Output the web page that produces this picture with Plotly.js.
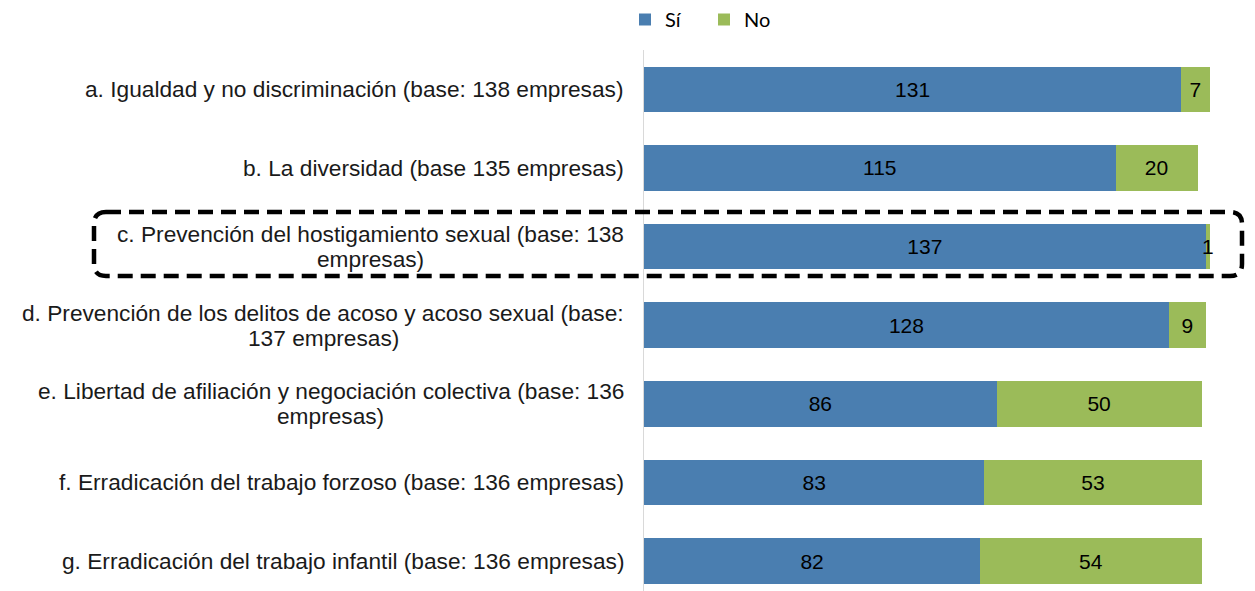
<!DOCTYPE html>
<html>
<head>
<meta charset="utf-8">
<script src="https://cdn.plot.ly/plotly-3.0.1.min.js"></script>
<style>html,body{margin:0;padding:0;background:#fff;}#chart{width:1255px;height:591px;}</style>
</head>
<body>
<div id="chart"></div>
<script>
const categories = [
  "a. Igualdad y no discriminación (base: 138 empresas)",
  "b. La diversidad (base 135 empresas)",
  "c. Prevención del hostigamiento sexual (base: 138<br>empresas)",
  "d. Prevención de los delitos de acoso y acoso sexual (base:<br>137 empresas)",
  "e. Libertad de afiliación y negociación colectiva (base: 136<br>empresas)",
  "f. Erradicación del trabajo forzoso (base: 136 empresas)",
  "g. Erradicación del trabajo infantil (base: 136 empresas)"
];
const siValues = [131, 115, 137, 128, 86, 83, 82];
const noValues = [7, 20, 1, 9, 50, 53, 54];
const seriesNames = ["Sí", "No"];

const W = 1255, H = 591;
const mL = 644, mR = 37, mT = 50, mB = 0;
const pw = W - mL - mR, ph = H - mT - mB;
const px = x => (x - mL) / pw;
const py = y => (H - mB - y) / ph;

const FAM = "Liberation Sans, Arial, sans-serif";
const LABEL_SIZE = 22.7;
const barTextFont = {family: FAM, size: 21, color: "#000"};

const traces = [
  {type: "bar", orientation: "h", name: seriesNames[0], y: categories, x: siValues,
   marker: {color: "#4A7EB0"}, text: siValues.map(String), textposition: "inside",
   insidetextanchor: "middle", constraintext: "none", textfont: barTextFont, hoverinfo: "x+y"},
  {type: "bar", orientation: "h", name: seriesNames[1], y: categories, x: noValues,
   marker: {color: "#9BBB59"}, text: noValues.map(String), textposition: "inside",
   insidetextanchor: "middle", constraintext: "none", textfont: barTextFont, hoverinfo: "x+y"}
];

// category labels: each line centred under the widest line, right edge next to the axis
const ctx = document.createElement("canvas").getContext("2d");
ctx.font = LABEL_SIZE + "px 'Liberation Sans', Arial, sans-serif";
const lineGap = 25;
const annotations = [];
categories.forEach(c => {
  const lines = c.split("<br>");
  const widths = lines.map(l => ctx.measureText(l).width);
  const maxW = Math.max(...widths);
  lines.forEach((l, i) => {
    const off = (i - (lines.length - 1) / 2) * lineGap;
    annotations.push({
      xref: "paper", x: 0, xanchor: "right", xshift: -18 - (maxW - widths[i]) / 2,
      yref: "y", y: c, yanchor: "middle", yshift: -off,
      text: l, showarrow: false, align: "center",
      font: {family: FAM, size: LABEL_SIZE, color: "#1a1a1a"}
    });
  });
});

// rounded dashed highlight box around category c
const bx0 = 94, bx1 = 1242, by0 = 212, by1 = 276, r = 12;
const rx = r / pw, ry = r / ph;
const X0 = px(bx0), X1 = px(bx1), Y0 = py(by0), Y1 = py(by1);
const path = `M ${X0 + rx},${Y0} L ${X1 - rx},${Y0} Q ${X1},${Y0} ${X1},${Y0 - ry} ` +
  `L ${X1},${Y1 + ry} Q ${X1},${Y1} ${X1 - rx},${Y1} L ${X0 + rx},${Y1} ` +
  `Q ${X0},${Y1} ${X0},${Y1 + ry} L ${X0},${Y0 - ry} Q ${X0},${Y0} ${X0 + rx},${Y0} Z`;

const layout = {
  width: W, height: H,
  margin: {l: mL, r: mR, t: mT, b: mB, pad: 0},
  barmode: "stack", bargap: 0.42,
  paper_bgcolor: "#fff", plot_bgcolor: "#fff",
  font: {family: FAM, size: 19, color: "#000"},
  xaxis: {range: [0, 140], showticklabels: false, showgrid: false, zeroline: false, showline: false, ticks: ""},
  yaxis: {type: "category", range: [6.38, -0.5], showticklabels: false, showgrid: false,
          zeroline: false, showline: true, linecolor: "#D9D9D9", linewidth: 1, ticks: ""},
  showlegend: true,
  legend: {orientation: "h", xref: "container", yref: "container", x: 625 / W, y: 1,
           xanchor: "left", yanchor: "top", entrywidth: 34, entrywidthmode: "pixels",
           font: {family: "Lato, Carlito, sans-serif", size: 20, color: "#000"}, traceorder: "normal"},
  annotations: annotations,
  shapes: [{type: "path", xref: "paper", yref: "paper", path: path,
            line: {color: "#000", width: 4.5, dash: "15px,8px"}, fillcolor: "rgba(0,0,0,0)", layer: "above"}]
};

Plotly.newPlot("chart", traces, layout, {displayModeBar: false, staticPlot: true});
</script>
</body>
</html>
